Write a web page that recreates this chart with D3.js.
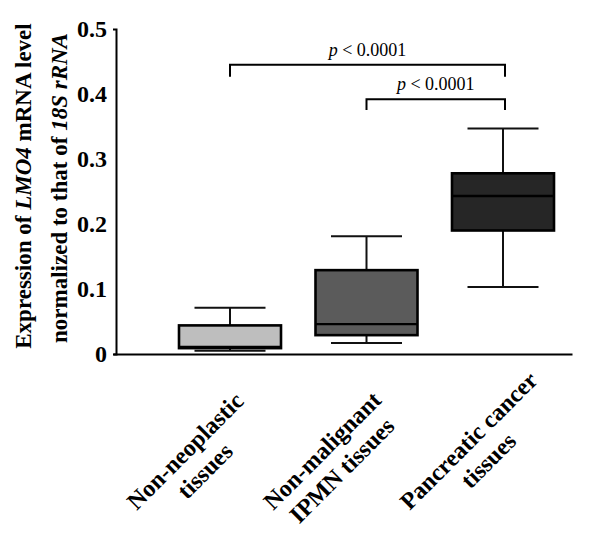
<!DOCTYPE html>
<html>
<head>
<meta charset="utf-8">
<script src="https://cdn.jsdelivr.net/npm/d3@7"></script>
<style>
  html, body { margin: 0; padding: 0; background: #fff; }
  svg { display: block; }
  text { font-family: "Liberation Serif", "Times New Roman", Times, serif; }
</style>
</head>
<body>
<svg id="chart" width="600" height="556"></svg>
<script>
// ---- data ----
const categories = ["Non-neoplastic tissues", "Non-malignant IPMN tissues", "Pancreatic cancer tissues"];
const labelLines = [["Non-neoplastic", "tissues"], ["Non-malignant", "IPMN tissues"], ["Pancreatic cancer", "tissues"]];
const whiskerLow = [0.005, 0.017, 0.103];
const q1 = [0.009, 0.029, 0.190];
const median = [0.011, 0.046, 0.243];
const q3 = [0.044, 0.129, 0.278];
const whiskerHigh = [0.071, 0.181, 0.347];
const boxColors = ["#bebebe", "#5b5b5b", "#262626"];
const yTicks = [0, 0.1, 0.2, 0.3, 0.4, 0.5];
const yTickLabels = ["0", "0.1", "0.2", "0.3", "0.4", "0.5"];
const brackets = [
  { from: 0, to: 2, level: 0.445, drop: 0.0185, p: "0.0001" },
  { from: 1, to: 2, level: 0.392, drop: 0.0165, p: "0.0001" }
];

// ---- layout ----
const svg = d3.select("#chart");
const x0 = 116, xEnd = 572, yBottom = 354, yTop = 29;
const y = d3.scaleLinear().domain([0, 0.5]).range([yBottom, yTop]);
const x = d3.scalePoint().domain(categories).range([230, 503]);
const boxW = 102, capW = 71;

// axes
const yAxis = d3.axisLeft(y).tickValues(yTicks).tickFormat((d, i) => yTickLabels[i])
  .tickSizeInner(0).tickSizeOuter(3).tickPadding(9);
const gy = svg.append("g").attr("transform", `translate(${x0},0)`).call(yAxis);
gy.select(".domain").attr("stroke", "#000").attr("stroke-width", 2);
gy.selectAll(".tick text").attr("font-size", 24).attr("font-weight", "bold")
  .attr("fill", "#000").style("font-family", '"Liberation Serif", serif');

const xs = d3.scaleLinear().domain([0, 1]).range([x0 - 3, xEnd]);
const xAxis = d3.axisBottom(xs).tickValues([]).tickSizeOuter(0);
const gx = svg.append("g").attr("transform", `translate(0,${yBottom})`).call(xAxis);
gx.select(".domain").attr("stroke", "#000").attr("stroke-width", 2);

// boxes
const data = categories.map((c, i) => ({
  c, i, lo: whiskerLow[i], q1: q1[i], med: median[i], q3: q3[i], hi: whiskerHigh[i], color: boxColors[i]
}));
const g = svg.append("g");
data.forEach(d => {
  const cx = x(d.c);
  // whisker stems
  g.append("line").attr("x1", cx).attr("x2", cx).attr("y1", y(d.hi)).attr("y2", y(d.q3))
    .attr("stroke", "#111").attr("stroke-width", 2);
  g.append("line").attr("x1", cx).attr("x2", cx).attr("y1", y(d.q1)).attr("y2", y(d.lo))
    .attr("stroke", "#111").attr("stroke-width", 2);
  // caps
  [d.hi, d.lo].forEach(v => {
    g.append("line").attr("x1", cx - capW / 2).attr("x2", cx + capW / 2).attr("y1", y(v)).attr("y2", y(v))
      .attr("stroke", "#111").attr("stroke-width", 2);
  });
  // box
  g.append("rect").attr("x", cx - boxW / 2).attr("width", boxW)
    .attr("y", y(d.q3)).attr("height", y(d.q1) - y(d.q3))
    .attr("fill", d.color).attr("stroke", "#000").attr("stroke-width", 2.6);
  // median
  g.append("line").attr("x1", cx - boxW / 2).attr("x2", cx + boxW / 2).attr("y1", y(d.med)).attr("y2", y(d.med))
    .attr("stroke", "#000").attr("stroke-width", 2.4);
});

// brackets
brackets.forEach(b => {
  const xa = x(categories[b.from]), xb = x(categories[b.to]) + 2;
  const yl = y(b.level), yd = y(b.level - b.drop);
  svg.append("path").attr("d", `M${xa},${yd}V${yl}H${xb}V${yd}`)
    .attr("fill", "none").attr("stroke", "#000").attr("stroke-width", 2);
  const t = svg.append("text").attr("x", (xa + xb) / 2).attr("y", yl - 9)
    .attr("text-anchor", "middle").attr("font-size", 18).attr("fill", "#000");
  t.append("tspan").attr("font-style", "italic").text("p");
  t.append("tspan").text(" < " + b.p);
});

// x labels, rotated -45deg
data.forEach((d, i) => {
  const lg = svg.append("g").attr("transform", `translate(${x(d.c)},${yBottom}) rotate(-45)`);
  const texts = labelLines[i].map((ln, k) => lg.append("text")
    .attr("font-size", 24).attr("font-weight", "bold").attr("fill", "#000")
    .attr("text-anchor", "middle").attr("y", 45 + k * 28).text(ln));
  const W = d3.max(texts, t => t.node().getComputedTextLength());
  texts.forEach(t => t.attr("x", -177 + W / 2));
});

// y title
const yt = svg.append("text").attr("transform", "translate(31,186) rotate(-90)")
  .attr("text-anchor", "middle").attr("font-size", 23).attr("font-weight", "bold").attr("fill", "#000");
yt.append("tspan").text("Expression of ");
yt.append("tspan").attr("font-style", "italic").text("LMO4");
yt.append("tspan").text(" mRNA level");
const yt2 = svg.append("text").attr("transform", "translate(67,188) rotate(-90)")
  .attr("text-anchor", "middle").attr("font-size", 23).attr("font-weight", "bold").attr("fill", "#000");
yt2.append("tspan").text("normalized to that of ");
yt2.append("tspan").attr("font-style", "italic").text("18S rRNA");
</script>
</body>
</html>
